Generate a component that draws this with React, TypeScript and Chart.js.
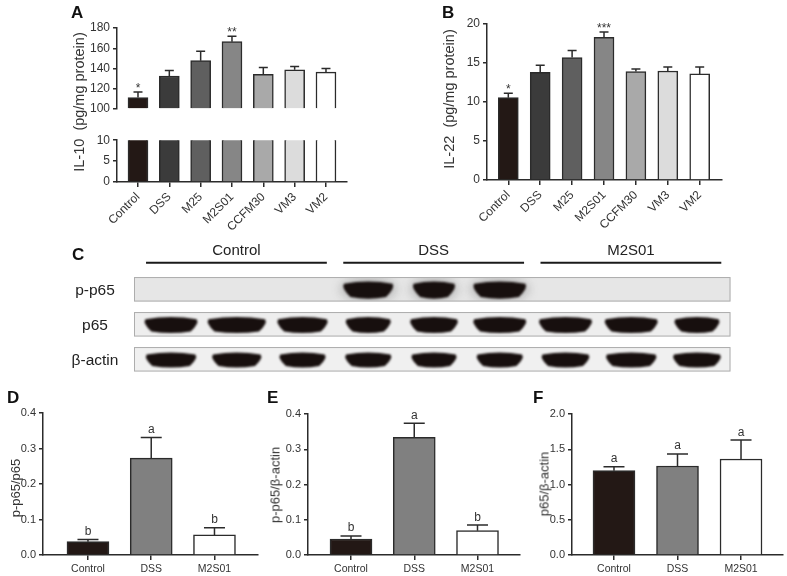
import React, { useEffect, useRef } from 'react';
import { Chart, registerables } from 'chart.js';

Chart.register(...registerables);

const FONT = '"Liberation Sans", Arial, Helvetica, sans-serif';
const INK = '#2b2b2b';
const TEXT = '#333333';

// ---------- Panel A / B data ----------
const groupsA = ['Control', 'DSS', 'M25', 'M2S01', 'CCFM30', 'VM3', 'VM2'];
const colorsA = ['#231815', '#3b3b3b', '#5f5f5f', '#868686', '#a9a9a9', '#dcdcdc', '#ffffff'];
const il10Mean = [111.3, 132.6, 147.7, 166.5, 134.2, 138.8, 136.4];
const il10Sem = [5.4, 5.4, 9.4, 5.4, 6.7, 3.2, 3.7];
const il10Sig = ['*', '', '', '**', '', '', ''];
const il10TopTicks = [100, 120, 140, 160, 180];
const il10BottomTicks = [0, 5, 10];

const il22Mean = [10.56, 13.8, 15.7, 18.3, 13.9, 13.97, 13.6];
const il22Sem = [0.55, 0.9, 0.9, 0.67, 0.33, 0.53, 0.89];
const il22Sig = ['*', '', '', '***', '', '', ''];
const il22Ticks = [0, 5, 10, 15, 20];

// ---------- Panel C (western blot) data ----------
const blotGroups = ['Control', 'DSS', 'M2S01'];
const blotRows = ['p-p65', 'p65', 'β-actin'];
const pp65Bands = [0, 0, 0, 1.0, 0.85, 1.05, 0, 0, 0];
const p65Bands = [1.05, 1.15, 1.0, 0.9, 0.95, 1.05, 1.05, 1.05, 0.9];
const actinBands = [1.0, 0.98, 0.92, 0.92, 0.9, 0.92, 0.95, 1.0, 0.95];

// ---------- Panels D / E / F data ----------
const groupsW = ['Control', 'DSS', 'M2S01'];
const colorsW = ['#231815', '#808080', '#ffffff'];
const pp65p65Mean = [0.0376, 0.273, 0.0565];
const pp65p65Sem = [0.0064, 0.058, 0.0205];
const pp65p65Sig = ['b', 'a', 'b'];
const pp65ActinMean = [0.0455, 0.3336, 0.069];
const pp65ActinSem = [0.0085, 0.0404, 0.016];
const pp65ActinSig = ['b', 'a', 'b'];
const p65ActinMean = [1.196, 1.262, 1.362];
const p65ActinSem = [0.057, 0.171, 0.269];
const p65ActinSig = ['a', 'a', 'a'];
const ratioTicks = [0, 0.1, 0.2, 0.3, 0.4];
const p65Ticks = [0, 0.5, 1.0, 1.5, 2.0];

// ---------- plugins ----------
const errorBarPlugin = {
  id: 'errorBars',
  afterDatasetsDraw(chart: any) {
    const ctx = chart.ctx;
    const yScale = chart.scales.y;
    chart.data.datasets.forEach((ds: any, di: number) => {
      if (!ds.errors) return;
      const meta = chart.getDatasetMeta(di);
      meta.data.forEach((bar: any, i: number) => {
        const mean = ds.data[i].y;
        const yMean = yScale.getPixelForValue(mean);
        const yTop = yScale.getPixelForValue(mean + ds.errors[i]);
        const half = ds.capWidth / 2;
        ctx.save();
        ctx.strokeStyle = INK;
        ctx.lineWidth = 1.5;
        ctx.beginPath();
        ctx.moveTo(bar.x, yMean);
        ctx.lineTo(bar.x, yTop);
        ctx.moveTo(bar.x - half, yTop);
        ctx.lineTo(bar.x + half, yTop);
        ctx.stroke();
        const mark = ds.marks ? ds.marks[i] : '';
        if (mark) {
          ctx.fillStyle = TEXT;
          ctx.font = `${ds.markSize}px ${FONT}`;
          ctx.textAlign = 'center';
          ctx.textBaseline = 'alphabetic';
          ctx.fillText(mark, bar.x, yTop - ds.markGap);
        }
        ctx.restore();
      });
    });
  },
};

function bandPath(ctx: CanvasRenderingContext2D, cx: number, cy: number, w: number, h: number) {
  // slightly "smiling" band: flatter top, rounded bottom, rising tips
  const l = cx - w / 2;
  const r = cx + w / 2;
  ctx.beginPath();
  ctx.moveTo(l + 2, cy - h * 0.35);
  ctx.quadraticCurveTo(cx, cy - h * 0.62, r - 2, cy - h * 0.35);
  ctx.quadraticCurveTo(r + 1, cy - h * 0.1, r - h * 0.5, cy + h * 0.42);
  ctx.quadraticCurveTo(cx, cy + h * 0.62, l + h * 0.5, cy + h * 0.42);
  ctx.quadraticCurveTo(l - 1, cy - h * 0.1, l + 2, cy - h * 0.35);
  ctx.closePath();
  ctx.fill();
}

const blotPlugin = {
  id: 'blot',
  afterDraw(chart: any) {
    const ctx: CanvasRenderingContext2D = chart.ctx;
    const xs = chart.scales.x;
    const ys = chart.scales.y;
    const area = chart.chartArea;
    const unit = xs.getPixelForValue(1) - xs.getPixelForValue(0);
    const rowUnit = Math.abs(ys.getPixelForValue(1) - ys.getPixelForValue(0));
    const stripFill = ['#e6e6e6', '#eeeeee', '#f0f0f0'];
    const bandH = [17, 16, 15];
    const bandSets = [pp65Bands, p65Bands, actinBands];

    ctx.save();
    ctx.font = `15px ${FONT}`;
    ctx.fillStyle = '#222';
    ctx.textAlign = 'center';
    ctx.textBaseline = 'middle';
    blotGroups.forEach((g, gi) => {
      const x0 = xs.getPixelForValue(gi * 3) - 0.38 * unit;
      const x1 = xs.getPixelForValue(gi * 3 + 2) + 0.37 * unit;
      ctx.fillText(g, (x0 + x1) / 2, area.top - 26);
      ctx.strokeStyle = '#1a1a1a';
      ctx.lineWidth = 2;
      ctx.beginPath();
      ctx.moveTo(x0, area.top - 14.5);
      ctx.lineTo(x1, area.top - 14.5);
      ctx.stroke();
    });

    blotRows.forEach((name, r) => {
      const cy = ys.getPixelForValue(r);
      const top = cy - rowUnit * 0.35;
      const h = rowUnit * 0.7;
      ctx.fillStyle = stripFill[r];
      ctx.fillRect(area.left, top, area.right - area.left, h);
      ctx.strokeStyle = '#adadad';
      ctx.lineWidth = 1;
      ctx.strokeRect(area.left + 0.5, top + 0.5, area.right - area.left - 1, h - 1);
      ctx.fillStyle = '#222';
      ctx.font = `15.5px ${FONT}`;
      ctx.textAlign = 'center';
      ctx.textBaseline = 'middle';
      ctx.fillText(name, area.left - 39, cy + 1.5);
      ctx.save();
      ctx.beginPath();
      ctx.rect(area.left + 1, top + 1, area.right - area.left - 2, h - 2);
      ctx.clip();
      bandSets[r].forEach((s, lane) => {
        if (!s) return;
        const cx = xs.getPixelForValue(lane);
        const w = unit * 0.8 * s;
        const bh = bandH[r];
        if (r === 0) {
          ctx.filter = 'blur(4px)';
          ctx.fillStyle = 'rgba(70,70,70,0.22)';
          ctx.beginPath();
          ctx.ellipse(cx, cy, w * 0.55, bh * 0.8, 0, 0, Math.PI * 2);
          ctx.fill();
        }
        ctx.filter = 'blur(0.8px)';
        ctx.fillStyle = '#170f0e';
        bandPath(ctx, cx, cy + 0.5, w, bh);
      });
      ctx.filter = 'none';
      ctx.restore();
    });
    ctx.restore();
  },
};

// ---------- bar panel config ----------
type Spec = {
  canvas: { x: number; y: number; w: number; h: number };
  area: { l: number; t: number; r: number; b: number };
  labels: string[];
  means: number[];
  errors?: number[];
  marks?: string[];
  colors: string[];
  yMin: number;
  yMax: number;
  yTicks: number[];
  yDigits: number;
  xMin: number;
  xMax: number;
  barThickness: number;
  capWidth: number;
  showX: boolean;
  rotate: number;
  tickSize: number;
  xSize: number;
  markSize: number;
  markGap: number;
  base?: number;
};

function buildConfig(p: Spec): any {
  const padTop = p.area.t - p.canvas.y;
  const padRight = p.canvas.x + p.canvas.w - p.area.r;
  const yWidth = p.area.l - p.canvas.x;
  const xHeight = p.canvas.y + p.canvas.h - p.area.b;
  const ds: any = {
    data: p.means.map((v, i) => ({ x: i, y: v })),
    backgroundColor: p.colors,
    borderColor: INK,
    borderWidth: 1.5,
    borderSkipped: 'start',
    barThickness: p.barThickness,
    errors: p.errors,
    marks: p.marks,
    capWidth: p.capWidth,
    markSize: p.markSize,
    markGap: p.markGap,
  };
  if (p.base !== undefined) ds.base = p.base;
  return {
    type: 'bar',
    data: { datasets: [ds] },
    options: {
      responsive: false,
      animation: false,
      events: [],
      layout: {
        padding: { left: 0, top: padTop, right: padRight, bottom: p.showX ? 0 : xHeight },
      },
      plugins: { legend: { display: false }, tooltip: { enabled: false } },
      scales: {
        x: {
          type: 'linear',
          display: p.showX,
          min: p.xMin,
          max: p.xMax,
          offset: false,
          afterBuildTicks: (s: any) => {
            s.ticks = p.labels.map((_, i) => ({ value: i }));
          },
          afterFit: (s: any) => {
            s.height = xHeight;
          },
          grid: {
            display: true,
            offset: false,
            drawOnChartArea: false,
            drawTicks: true,
            tickLength: 5,
            color: INK,
            lineWidth: 1.5,
          },
          border: { display: true, color: INK, width: 1.5 },
          ticks: {
            autoSkip: false,
            minRotation: p.rotate,
            maxRotation: p.rotate,
            padding: 3,
            color: TEXT,
            font: { family: FONT, size: p.xSize },
            callback: (v: number) => p.labels[v] ?? '',
          },
        },
        y: {
          type: 'linear',
          min: p.yMin,
          max: p.yMax,
          afterBuildTicks: (s: any) => {
            s.ticks = p.yTicks.map((v) => ({ value: v }));
          },
          afterFit: (s: any) => {
            s.width = yWidth;
          },
          grid: {
            display: true,
            offset: false,
            drawOnChartArea: false,
            drawTicks: true,
            tickLength: 4,
            color: INK,
            lineWidth: 1.5,
          },
          border: { display: true, color: INK, width: 1.5 },
          ticks: {
            padding: 3,
            color: TEXT,
            font: { family: FONT, size: p.tickSize },
            callback: (v: number) => Number(v).toFixed(p.yDigits),
          },
        },
      },
    },
    plugins: [errorBarPlugin],
  };
}

const specs: Spec[] = [
  {
    canvas: { x: 60, y: 0, w: 300, h: 145 },
    area: { l: 117, t: 28, r: 347, b: 127 },
    labels: groupsA, means: il10Mean, errors: il10Sem, marks: il10Sig, colors: colorsA,
    yMin: 100, yMax: 180, yTicks: il10TopTicks, yDigits: 0,
    xMin: -0.67, xMax: 6.671, barThickness: 20, capWidth: 9,
    showX: false, rotate: 45, tickSize: 12, xSize: 12, markSize: 12, markGap: 0, base: 100,
  },
  {
    canvas: { x: 60, y: 130, w: 300, h: 105 },
    area: { l: 117, t: 138, r: 347, b: 182 },
    labels: groupsA, means: il10Mean, colors: colorsA,
    yMin: 0, yMax: 10, yTicks: il10BottomTicks, yDigits: 0,
    xMin: -0.67, xMax: 6.671, barThickness: 20, capWidth: 9,
    showX: true, rotate: 45, tickSize: 12, xSize: 12, markSize: 12, markGap: 0,
  },
  {
    canvas: { x: 430, y: 0, w: 310, h: 235 },
    area: { l: 487, t: 24, r: 722, b: 180 },
    labels: groupsA, means: il22Mean, errors: il22Sem, marks: il22Sig, colors: colorsA,
    yMin: 0, yMax: 20, yTicks: il22Ticks, yDigits: 0,
    xMin: -0.668, xMax: 6.699, barThickness: 20, capWidth: 9,
    showX: true, rotate: 45, tickSize: 12, xSize: 12, markSize: 12, markGap: 0,
  },
  {
    canvas: { x: 18, y: 400, w: 250, h: 176 },
    area: { l: 43, t: 413, r: 258, b: 555 },
    labels: groupsW, means: pp65p65Mean, errors: pp65p65Sem, marks: pp65p65Sig, colors: colorsW,
    yMin: 0, yMax: 0.4, yTicks: ratioTicks, yDigits: 1,
    xMin: -0.711, xMax: 2.688, barThickness: 42, capWidth: 21,
    showX: true, rotate: 0, tickSize: 11, xSize: 10.5, markSize: 12, markGap: 4.5,
  },
  {
    canvas: { x: 282, y: 400, w: 245, h: 176 },
    area: { l: 308, t: 414, r: 520, b: 555 },
    labels: groupsW, means: pp65ActinMean, errors: pp65ActinSem, marks: pp65ActinSig, colors: colorsW,
    yMin: 0, yMax: 0.4, yTicks: ratioTicks, yDigits: 1,
    xMin: -0.68, xMax: 2.672, barThickness: 42, capWidth: 21,
    showX: true, rotate: 0, tickSize: 11, xSize: 10.5, markSize: 12, markGap: 4.5,
  },
  {
    canvas: { x: 546, y: 400, w: 241, h: 176 },
    area: { l: 572, t: 414, r: 783, b: 555 },
    labels: groupsW, means: p65ActinMean, errors: p65ActinSem, marks: p65ActinSig, colors: colorsW,
    yMin: 0, yMax: 2.0, yTicks: p65Ticks, yDigits: 1,
    xMin: -0.661, xMax: 2.661, barThickness: 42, capWidth: 21,
    showX: true, rotate: 0, tickSize: 11, xSize: 10.5, markSize: 12, markGap: 4.5,
  },
];

function BarPanel({ spec }: { spec: Spec }) {
  const ref = useRef<HTMLCanvasElement>(null);
  useEffect(() => {
    const chart = new Chart(ref.current as HTMLCanvasElement, buildConfig(spec));
    return () => chart.destroy();
  }, [spec]);
  return (
    <canvas
      ref={ref}
      width={spec.canvas.w}
      height={spec.canvas.h}
      style={{ position: 'absolute', left: spec.canvas.x, top: spec.canvas.y, width: spec.canvas.w, height: spec.canvas.h }}
    />
  );
}

function BlotPanel() {
  const ref = useRef<HTMLCanvasElement>(null);
  useEffect(() => {
    const chart = new Chart(ref.current as HTMLCanvasElement, {
      type: 'scatter',
      data: { datasets: [] },
      options: {
        responsive: false,
        animation: false,
        events: [],
        layout: { padding: { left: 134, right: 56.5, top: 42.3, bottom: 3.7 } },
        plugins: { legend: { display: false }, tooltip: { enabled: false } },
        scales: {
          x: { type: 'linear', display: false, min: -0.563, max: 8.51 },
          y: { type: 'linear', display: false, min: -0.343, max: 2.343, reverse: true },
        },
      },
      plugins: [blotPlugin],
    } as any);
    return () => chart.destroy();
  }, []);
  return (
    <canvas ref={ref} width={787} height={140} style={{ position: 'absolute', left: 0, top: 235, width: 787, height: 140 }} />
  );
}

function YTitle({ text, cx, cy, size }: { text: string; cx: number; cy: number; size: number }) {
  return (
    <div
      style={{
        position: 'absolute',
        left: cx,
        top: cy,
        transform: 'translate(-50%, -50%) rotate(-90deg)',
        whiteSpace: 'pre',
        fontFamily: FONT,
        fontSize: size,
        lineHeight: `${size}px`,
        color: TEXT,
      }}
    >
      {text}
    </div>
  );
}

function PanelLetter({ text, x, baseline }: { text: string; x: number; baseline: number }) {
  return (
    <div
      style={{
        position: 'absolute',
        left: x,
        top: baseline - 14.4,
        fontFamily: FONT,
        fontWeight: 'bold',
        fontSize: 17,
        lineHeight: '17px',
        color: '#111',
      }}
    >
      {text}
    </div>
  );
}

export default function App() {
  return (
    <div style={{ position: 'absolute', left: 0, top: 0, width: 787, height: 576, background: '#fff', overflow: 'hidden' }}>
      {specs.map((s, i) => (
        <BarPanel key={i} spec={s} />
      ))}
      <BlotPanel />
      <YTitle text="IL-10  (pg/mg protein)" cx={79} cy={102} size={14.5} />
      <YTitle text="IL-22  (pg/mg protein)" cx={449} cy={99} size={14.5} />
      <YTitle text="p-p65/p65" cx={14.5} cy={487.5} size={13} />
      <YTitle text="p-p65/β-actin" cx={274.5} cy={485} size={13} />
      <YTitle text="p65/β-actin" cx={543.5} cy={484} size={13} />
      <PanelLetter text="A" x={71} baseline={18} />
      <PanelLetter text="B" x={442} baseline={18} />
      <PanelLetter text="C" x={72} baseline={260} />
      <PanelLetter text="D" x={7} baseline={403} />
      <PanelLetter text="E" x={267} baseline={403} />
      <PanelLetter text="F" x={533} baseline={403} />
    </div>
  );
}
